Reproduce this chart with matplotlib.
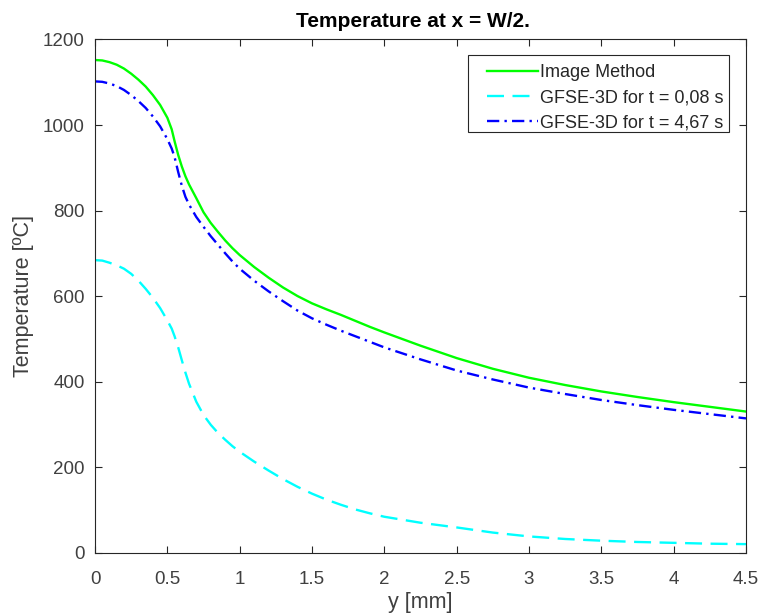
import matplotlib
matplotlib.use("Agg")
import matplotlib.pyplot as plt
from matplotlib.patches import Rectangle

# Distance along y [mm]
y_mm = [0.0, 0.05, 0.1, 0.15, 0.2, 0.25, 0.3, 0.35, 0.4, 0.45, 0.5, 0.53,
        0.55, 0.575, 0.6, 0.625, 0.65, 0.7, 0.75, 0.8, 0.85, 0.9, 0.95, 1.0,
        1.1, 1.2, 1.3, 1.4, 1.5, 1.6, 1.7, 1.8, 1.9, 2.0, 2.25, 2.5, 2.75,
        3.0, 3.25, 3.5, 3.75, 4.0, 4.25, 4.5]

# Image Method temperature [ºC]
t_image = [1152, 1151, 1147, 1141, 1132, 1120, 1106, 1090, 1070, 1047, 1017, 990,
           962, 930, 903, 880, 861, 829, 796, 771, 750, 730, 712, 696,
           668, 643, 620, 600, 583, 569, 556, 542, 528, 515, 484, 455, 430,
           409, 392, 377, 364, 352, 341, 330]

# GFSE-3D, t = 0,08 s
t_gfse_008 = [684, 683, 678, 672, 664, 652, 636, 617, 596, 572, 543, 524,
              506, 480, 450, 421, 395, 353, 322, 299, 280, 264, 249, 236,
              213, 192, 172, 154, 138, 124, 112, 101, 92, 84, 70, 59, 47,
              38, 32, 28, 25, 23, 21, 20]

# GFSE-3D, t = 4,67 s
t_gfse_467 = [1102, 1101, 1097, 1091, 1082, 1070, 1056, 1040, 1020, 997, 967, 945,
              925, 890, 858, 832, 814, 785, 762, 740, 720, 700, 681, 664,
              636, 611, 588, 566, 548, 533, 519, 506, 493, 480, 452, 426, 405,
              386, 371, 357, 345, 334, 324, 314]

x_ticks = [0, 0.5, 1, 1.5, 2, 2.5, 3, 3.5, 4, 4.5]
x_ticklabels = ["0", "0.5", "1", "1.5", "2", "2.5", "3", "3.5", "4", "4.5"]
y_ticks = [0, 200, 400, 600, 800, 1000, 1200]

plt.rcParams['font.family'] = ['Liberation Sans', 'DejaVu Sans']

W, H = 762, 616
fig = plt.figure(figsize=(W / 100, H / 100), dpi=100)
ax = fig.add_axes([0.1247, 0.1028, 0.8543, 0.8331])

lw = 1.7
ax.plot(y_mm, t_image, color=(0, 1, 0), lw=lw, label="Image Method")
ax.plot(y_mm, t_gfse_008, color=(0, 1, 1), lw=lw, dashes=(7.2, 3.6),
        label="GFSE-3D for t = 0,08 s")
ax.plot(y_mm, t_gfse_467, color=(0, 0, 1), lw=lw, dashes=(5.2, 2.2, 1.0, 2.2),
        label="GFSE-3D for t = 4,67 s")

ax.set_xlim(0, 4.5)
ax.set_ylim(0, 1200)
ax.set_xticks(x_ticks)
ax.set_xticklabels(x_ticklabels)
ax.set_yticks(y_ticks)

tick_col = "#262626"
label_col = "#404040"
for s in ax.spines.values():
    s.set_color(tick_col)
    s.set_linewidth(0.8)
ax.tick_params(direction="in", length=5, width=0.8, color=tick_col,
               labelcolor=label_col, labelsize=13.5, top=True, right=True)
ax.tick_params(axis="x", pad=13)
ax.tick_params(axis="y", pad=7.5)

ax.set_xlabel("y [mm]", fontsize=15.5, color=label_col, labelpad=3)
ax.set_ylabel("Temperature [ºC]", fontsize=15.5, color=label_col, labelpad=6)
ax.set_title("Temperature at x = W/2.", fontsize=15, fontweight="bold",
             color="black", pad=9, x=0.489)

# Legend entries without a frame; the box is drawn separately so the
# left margin in front of the line samples can be wider than the rest.
leg = ax.legend(loc="upper right", bbox_to_anchor=(723 / W, 1 - 64 / H),
                bbox_transform=fig.transFigure, fontsize=13, handlelength=2.8,
                handletextpad=0.1, borderpad=0.0, borderaxespad=0.0,
                labelspacing=0.45, frameon=False)
for t in leg.get_texts():
    t.set_color(tick_col)

box = Rectangle((468 / W, 1 - 132 / H), (729 - 468) / W, (132 - 55) / H,
                transform=fig.transFigure, facecolor="white",
                edgecolor=tick_col, lw=0.8, zorder=4)
fig.add_artist(box)
leg.remove()
leg.set_zorder(5)
fig.add_artist(leg)

fig.savefig("out.png", dpi=100)
